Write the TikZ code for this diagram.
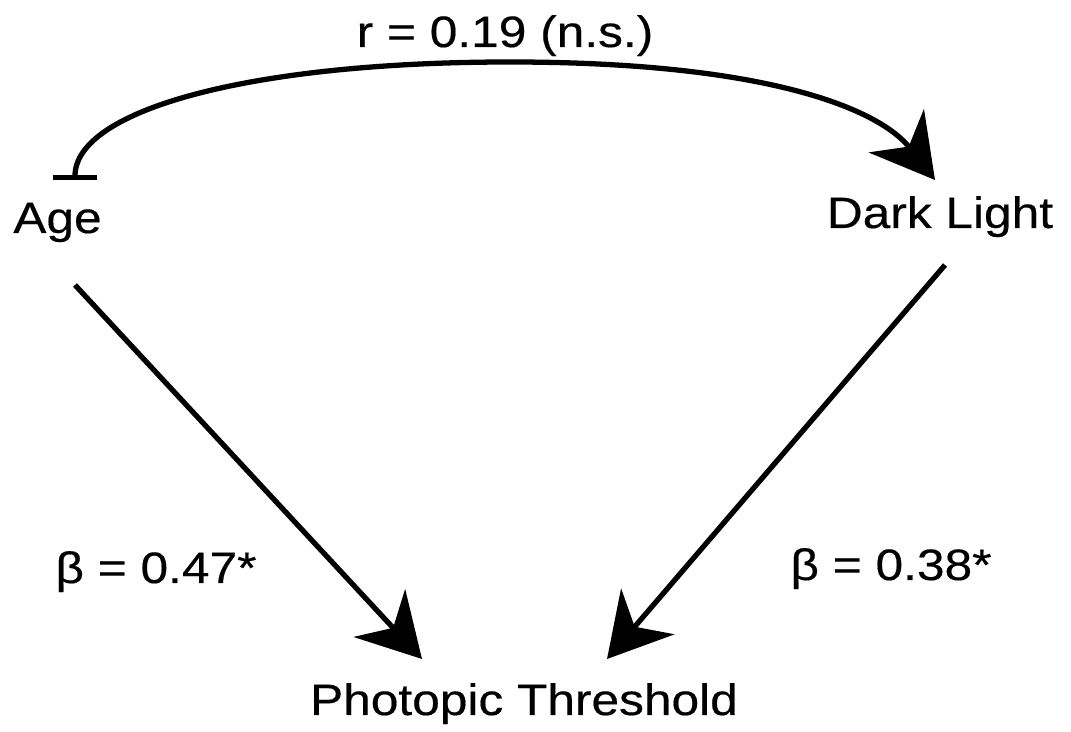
\documentclass[tikz,border=0pt]{standalone}
\usepackage{fontspec}
\setmainfont{Liberation Sans}[FakeStretch=1.13, FakeBold=0.4]
\usepackage{tikz}
\usetikzlibrary{arrows.meta}

\begin{document}
\begin{tikzpicture}

  \tikzstyle{varnode} = [
    draw=none, inner sep=0pt, anchor=base,
    font=\fontsize{25}{30}\selectfont
  ]
  \tikzstyle{effect} = [
    line width=3pt,
    -{Stealth[length=1.25cm, width=1.4cm, inset=0.4cm]}
  ]

  \useasboundingbox (0,0) rectangle (21.42,14.64);

  % variables
  \node[varnode] (age)   at (1.15, 9.98)  {Age};
  \node[varnode] (dark)  at (18.8, 10.08) {Dark Light};
  \node[varnode] (photo) at (10.48, 0.34) {Photopic Threshold};

  % coefficients
  \node[varnode] (rlab) at (10.1, 13.7)  {r = 0.19 (n.s.)};
  \node[varnode] (b1)   at (3.12, 2.98)  {β = 0.47*};
  \node[varnode] (b2)   at (17.82, 3.04) {β = 0.38*};

  \draw[effect, {Bar[width=0.88cm]}-{Stealth[length=1.25cm, width=1.4cm, inset=0.4cm]}]
    ([shift={(0.35,1.06)}]age.base)
    .. controls (1.5,12.44) and (5.0,13.4) .. (10.2,13.4)
    .. controls (15.4,13.4) and (17.6,12.44) ..
    ([shift={(-0.1,0.96)}]dark.base);

  \draw[effect] ([shift={(0.35,-1.04)}]age.base) -- ([shift={(-2.04,1.12)}]photo.base);
  \draw[effect] ([shift={(0.1,-0.74)}]dark.base) -- ([shift={(1.66,1.12)}]photo.base);

\end{tikzpicture}
\end{document}
